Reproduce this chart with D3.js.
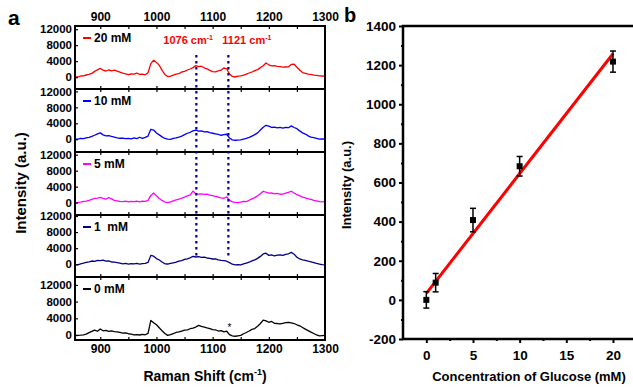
<!DOCTYPE html>
<html>
<head>
<meta charset="utf-8">
<script src="https://cdn.jsdelivr.net/npm/d3@7"></script>
<style>
body { margin: 0; background: #fff; }
svg { display: block; font-family: "Liberation Sans", Arial, sans-serif; font-weight: bold; }
</style>
</head>
<body>
<div id="chart"></div>
<script>
// Raman shift grid (cm-1), one reading every 5 cm-1
const shift = d3.range(855, 1301, 5);

// spectra (a.u.)
const spec20 = [100, 50, 300, 350, 550, 700, 950, 1450, 1850, 2200,
    1750, 1550, 1800, 1600, 1750, 1500, 1250, 1000, 850, 650,
    800, 750, 1050, 700, 750, 600, 1100, 3400, 4250, 3700,
    3000, 1700, 700, 150, 250, 500, 750, 900, 1300, 1450,
    1800, 2050, 2400, 2900, 2650, 2750, 2350, 2100, 1700, 1400,
    1350, 1600, 1750, 2300, 2100, 800, 200, 50, 250, 350,
    500, 750, 1050, 1300, 1650, 1900, 2400, 2850, 3550, 3100,
    2850, 2900, 2700, 2650, 2500, 2550, 2600, 3200, 3250, 2500,
    1800, 1150, 950, 750, 700, 500, 450, 350, 300, 200];
const spec10 = [0, 50, 200, 150, 350, 450, 700, 1000, 1350, 1600,
    1100, 850, 900, 700, 550, 350, 250, 300, 150, 200,
    100, 350, 150, 500, 200, 450, 800, 2500, 2300, 1550,
    1100, 600, 200, 50, -50, 200, 350, 550, 800, 1150,
    1500, 1750, 2100, 2300, 2050, 2100, 1850, 1900, 1650, 1500,
    1350, 1200, 1000, 1150, 1250, 300, -150, -250, -200, -150,
    50, 200, 450, 800, 1150, 1600, 2300, 3000, 3500, 3300,
    2950, 3050, 2850, 2950, 2800, 3000, 2900, 3350, 2950, 2650,
    2100, 1600, 1300, 850, 550, 400, 200, 50, 100, 0];
const spec5 = [0, 50, 150, 300, 350, 550, 800, 1050, 1150, 1300,
    1050, 850, 1250, 950, 550, 450, 300, 250, 350, 200,
    300, 250, 350, 200, 400, 300, 550, 1800, 2400, 1700,
    1050, 550, 150, 0, 200, 450, 700, 850, 1150, 1400,
    1700, 1950, 2900, 2200, 2150, 2200, 2050, 2100, 1900, 1750,
    1550, 1400, 1200, 1100, 1450, 550, 200, 50, 0, 150,
    300, 250, 600, 950, 1250, 1700, 2200, 2850, 2600, 2400,
    2450, 2200, 2300, 2100, 2150, 2350, 2550, 2850, 2400, 2000,
    1700, 1400, 1200, 950, 800, 550, 450, 250, 200, 300];
const spec1 = [-100, -150, 100, 250, 450, 600, 800, 700, 950, 900,
    1000, 750, 850, 550, 500, 400, 250, 100, 200, 50,
    150, 100, 200, 50, 150, 200, 450, 2200, 2000, 1400,
    1050, 550, 100, 50, 200, 350, 500, 750, 900, 1200,
    1350, 1600, 1950, 1800, 1900, 1700, 1750, 1550, 1450, 1300,
    1350, 1100, 950, 900, 750, 400, 0, -150, -100, -150,
    100, 300, 500, 850, 1100, 1450, 1950, 2550, 2750, 2200,
    2350, 2050, 2250, 2350, 2200, 2450, 2600, 2950, 2500, 1750,
    1300, 1100, 950, 750, 600, 400, 200, 50, -100, -150];
const spec0 = [-150, -100, -50, 50, 200, 550, 850, 1150, 900, 1450,
    1000, 1100, 850, 1000, 800, 750, 600, 450, 500, 300,
    200, 50, 100, 0, 150, 50, 400, 3500, 2950, 2450,
    1750, 1000, 350, -100, 100, 350, 600, 750, 950, 1150,
    1250, 1500, 1650, 1900, 2300, 2050, 1900, 1700, 1550, 1300,
    1250, 950, 1050, 750, 900, 100, -200, -300, -200, -100,
    300, 600, 950, 1350, 1550, 2100, 2750, 3550, 3400, 3050,
    3250, 2800, 2750, 2650, 2800, 2950, 3050, 2900, 2750, 2450,
    2200, 1800, 1400, 1050, 700, 350, 0, -200, -150, -100];

const spectra = [spec20, spec10, spec5, spec1, spec0];
const specLabels = ['20 mM', '10 mM', '5 mM', '1  mM', '0 mM'];
const specColors = ['#ff0000', '#0000ff', '#ff00ff', '#000080', '#000000'];

const peakLabels = ['1076', '1121'];
const peakLines = [1071, 1128];      // where the dotted guides sit
const starMark = [1130, 2200];       // the "*" in the 0 mM spectrum

const shiftTicks = [900, 1000, 1100, 1200, 1300];
const intensityTicks = [0, 4000, 8000, 12000];

// panel b
const glucose = [0, 1, 5, 10, 20];
const meanIntensity = [0, 88, 408, 683, 1218];
const errIntensity = [42, 47, 60, 50, 54];
const fitGlucose = [0, 20];
const fitIntensity = [33, 1258];
const glucoseTicks = [0, 5, 10, 15, 20];
const bTicks = [-200, 0, 200, 400, 600, 800, 1000, 1200, 1400];

const plain = function (d) { return String(d); };

const svg = d3.select('#chart').append('svg')
    .attr('width', 633)
    .attr('height', 388);

// ---------- panel a ----------
const aLeft = 75, aRight = 325;
const panelEdges = [26, 89, 152, 215, 277, 340];
const yDomains = [[-2950, 12800], [-3200, 12600], [-3100, 12680], [-3180, 12250], [-1200, 13900]];

const x = d3.scaleLinear().domain([855, 1300]).range([aLeft, aRight]);

const defs = svg.append('defs');

spectra.forEach(function (values, i) {
    var top = panelEdges[i], bottom = panelEdges[i + 1];
    var y = d3.scaleLinear().domain(yDomains[i]).range([bottom, top]);
    var g = svg.append('g').attr('class', 'panel-' + i);

    defs.append('clipPath').attr('id', 'clip' + i)
        .append('rect')
        .attr('x', aLeft).attr('y', top)
        .attr('width', aRight - aLeft).attr('height', bottom - top);

    var line = d3.line()
        .x(function (d, k) { return x(shift[k]); })
        .y(function (d) { return y(d); });

    g.append('path')
        .datum(values)
        .attr('clip-path', 'url(#clip' + i + ')')
        .attr('fill', 'none')
        .attr('stroke', specColors[i])
        .attr('stroke-width', 1.3)
        .attr('stroke-linejoin', 'round')
        .attr('d', line);

    // y axis
    var ya = g.append('g')
        .attr('transform', 'translate(' + aLeft + ',0)')
        .call(d3.axisLeft(y).tickValues(intensityTicks).tickFormat(plain).tickSize(-3).tickPadding(3));
    ya.select('.domain').remove();
    ya.selectAll('text').attr('font-size', 11.5).attr('font-weight', 'bold').attr('fill', '#000');
    ya.selectAll('line').attr('stroke-width', 1.2);

    // inner ticks on top and bottom edges
    [top, bottom].forEach(function (edge, j) {
        var ax = j === 0 ? d3.axisTop(x) : d3.axisBottom(x);
        var t = g.append('g')
            .attr('transform', 'translate(0,' + edge + ')')
            .call(ax.tickValues(d3.range(900, 1300, 50)).tickSize(-3).tickFormat(''));
        t.select('.domain').remove();
        t.selectAll('line').attr('stroke-width', 1.2);
    });

    // legend
    g.append('line')
        .attr('x1', 83).attr('x2', 91)
        .attr('y1', top + 12).attr('y2', top + 12)
        .attr('stroke', specColors[i]).attr('stroke-width', 2);
    g.append('text')
        .attr('x', 94).attr('y', top + 16)
        .attr('font-size', 12)
        .attr('xml:space', 'preserve')
        .style('white-space', 'pre')
        .text(specLabels[i]);
});

// panel frames
panelEdges.slice(0, 5).forEach(function (top, i) {
    svg.append('rect')
        .attr('x', aLeft).attr('y', top)
        .attr('width', aRight - aLeft).attr('height', panelEdges[i + 1] - top)
        .attr('fill', 'none').attr('stroke', '#000').attr('stroke-width', 2);
});

// top and bottom shift labels
var topAxis = svg.append('g')
    .attr('transform', 'translate(0,' + panelEdges[0] + ')')
    .call(d3.axisTop(x).tickValues(shiftTicks).tickFormat(plain).tickSize(0).tickPadding(5));
var botAxis = svg.append('g')
    .attr('transform', 'translate(0,' + panelEdges[5] + ')')
    .call(d3.axisBottom(x).tickValues(shiftTicks).tickFormat(plain).tickSize(0).tickPadding(4));
[topAxis, botAxis].forEach(function (a) {
    a.select('.domain').remove();
    a.selectAll('text').attr('font-size', 12).attr('font-weight', 'bold').attr('fill', '#000');
});

// dotted guides + labels
const labelShift = [-33, -6];
peakLines.forEach(function (p, i) {
    svg.append('line')
        .attr('x1', x(p)).attr('x2', x(p))
        .attr('y1', 55).attr('y2', 256)
        .attr('stroke', '#00008b')
        .attr('stroke-width', 2.2)
        .attr('stroke-dasharray', '2.5,3.5');
    var t = svg.append('text')
        .attr('x', x(p) + labelShift[i])
        .attr('y', 44)
        .attr('fill', '#ff0000')
        .attr('font-size', 11);
    t.append('tspan').text(peakLabels[i] + ' cm');
    t.append('tspan').attr('font-size', 7).attr('dy', -4).text('-1');
});

// asterisk in the 0 mM spectrum
var y0 = d3.scaleLinear().domain(yDomains[4]).range([panelEdges[5], panelEdges[4]]);
svg.append('text')
    .attr('x', x(starMark[0])).attr('y', y0(starMark[1]) + 5)
    .attr('text-anchor', 'middle')
    .attr('font-size', 10).attr('font-weight', 'normal')
    .text('*');

// axis titles panel a
var xt = svg.append('text')
    .attr('x', 205).attr('y', 381)
    .attr('text-anchor', 'middle')
    .attr('font-size', 14);
xt.append('tspan').text('Raman Shift (cm');
xt.append('tspan').attr('font-size', 9).attr('dy', -6).text('-1');
xt.append('tspan').attr('dy', 6).text(')');

svg.append('text')
    .attr('transform', 'translate(26,183) rotate(-90)')
    .attr('text-anchor', 'middle')
    .attr('font-size', 15)
    .text('Intensity (a.u.)');

svg.append('text').attr('x', 8).attr('y', 25).attr('font-size', 21).text('a');

// ---------- panel b ----------
const bLeft = 403, bTop = 26, bBottom = 339;
const xb = d3.scaleLinear().domain([-2.5, 22.5]).range([bLeft, 636.3]);
const yb = d3.scaleLinear().domain([-200, 1400]).range([bBottom, bTop]);

var gb = svg.append('g');

var yAxisB = gb.append('g')
    .attr('transform', 'translate(' + bLeft + ',0)')
    .call(d3.axisLeft(yb).tickValues(bTicks).tickFormat(plain).tickSize(4).tickPadding(3));
var yMinorB = gb.append('g')
    .attr('transform', 'translate(' + bLeft + ',0)')
    .call(d3.axisLeft(yb).tickValues(d3.range(-100, 1400, 200)).tickSize(2).tickFormat(''));
var xAxisB = gb.append('g')
    .attr('transform', 'translate(0,' + bBottom + ')')
    .call(d3.axisBottom(xb).tickValues(glucoseTicks).tickFormat(plain).tickSize(4).tickPadding(7));
var xMinorB = gb.append('g')
    .attr('transform', 'translate(0,' + bBottom + ')')
    .call(d3.axisBottom(xb).tickValues([2.5, 7.5, 12.5, 17.5]).tickSize(2).tickFormat(''));
[yAxisB, yMinorB, xAxisB, xMinorB].forEach(function (a) {
    a.select('.domain').remove();
    a.selectAll('line').attr('stroke-width', 2);
    a.selectAll('text').attr('font-size', 13.5).attr('font-weight', 'bold').attr('fill', '#000');
});

// frame (right side runs off the picture)
gb.append('path')
    .attr('d', 'M633,' + bTop + 'H' + bLeft + 'V' + bBottom + 'H633')
    .attr('fill', 'none').attr('stroke', '#000').attr('stroke-width', 2.5);

// linear fit
gb.append('path')
    .datum(fitGlucose)
    .attr('fill', 'none')
    .attr('stroke', '#ff0000')
    .attr('stroke-width', 3)
    .attr('d', d3.line()
        .x(function (d) { return xb(d); })
        .y(function (d, k) { return yb(fitIntensity[k]); }));

// error bars + squares
glucose.forEach(function (c, i) {
    var cx = xb(c);
    var hi = yb(meanIntensity[i] + errIntensity[i]);
    var lo = yb(meanIntensity[i] - errIntensity[i]);
    gb.append('line').attr('x1', cx).attr('x2', cx).attr('y1', hi).attr('y2', lo)
        .attr('stroke', '#000').attr('stroke-width', 1.5);
    [hi, lo].forEach(function (yy) {
        gb.append('line').attr('x1', cx - 3).attr('x2', cx + 3).attr('y1', yy).attr('y2', yy)
            .attr('stroke', '#000').attr('stroke-width', 1.5);
    });
    gb.append('rect')
        .attr('x', cx - 3).attr('y', yb(meanIntensity[i]) - 3)
        .attr('width', 6).attr('height', 6)
        .attr('fill', '#000');
});

svg.append('text')
    .attr('x', 529).attr('y', 381)
    .attr('text-anchor', 'middle')
    .attr('font-size', 13)
    .text('Concentration of Glucose (mM)');

svg.append('text')
    .attr('transform', 'translate(351,185) rotate(-90)')
    .attr('text-anchor', 'middle')
    .attr('font-size', 13)
    .text('Intensity (a.u.)');

svg.append('text').attr('x', 344).attr('y', 22).attr('font-size', 20).text('b');
</script>
</body>
</html>
